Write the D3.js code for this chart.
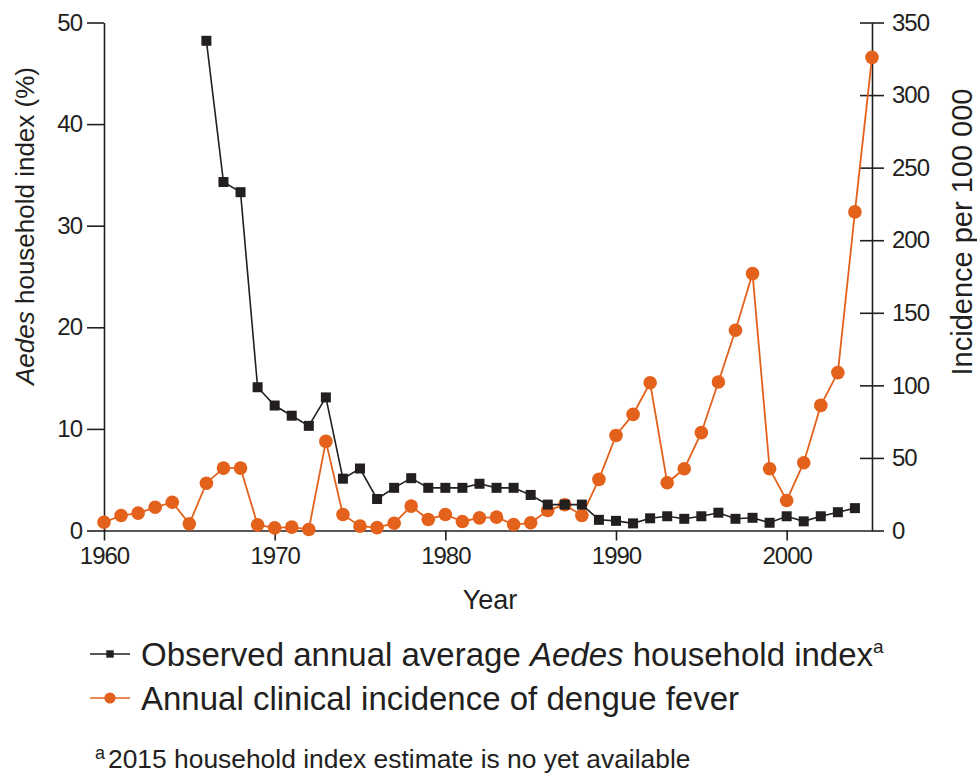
<!DOCTYPE html>
<html>
<head>
<meta charset="utf-8">
<script src="https://cdn.jsdelivr.net/npm/d3@7"></script>
<style>
  html, body { margin: 0; padding: 0; background: #fff; }
  svg { display: block; font-family: "Liberation Sans", Arial, Helvetica, sans-serif; }
</style>
</head>
<body>
<svg id="chart" width="977" height="776"></svg>
<script>
// ---- Data ----
const incidenceYears = d3.range(1960, 2006);
const incidence = [5.7, 10.3, 12, 16, 19.5, 4.6, 32.6, 43, 43, 3.9,
  1.8, 2.3, 0.7, 61.4, 11, 3, 2, 5, 16.8, 7.6,
  11, 6.2, 8.7, 9.2, 4.1, 5.3, 13.8, 17.7, 10.3, 35.2,
  65.5, 80, 101.8, 32.9, 42.5, 67.4, 102.3, 138, 177, 42.5,
  20.7, 46.7, 86.2, 108.8, 219.5, 326];
const indexYears = d3.range(1966, 2005);
const householdIndex = [48.2, 34.3, 33.3, 14.1,
  12.3, 11.3, 10.3, 13.1, 5.1, 6.1, 3.1, 4.2, 5.15, 4.2,
  4.2, 4.2, 4.6, 4.2, 4.2, 3.5, 2.55, 2.55, 2.55, 1.05,
  0.95, 0.7, 1.2, 1.4, 1.15, 1.4, 1.75, 1.15, 1.25, 0.76,
  1.4, 0.9, 1.4, 1.8, 2.2];
const xTicks = [1960, 1970, 1980, 1990, 2000];
const leftTicks = [0, 10, 20, 30, 40, 50];
const rightTicks = [0, 50, 100, 150, 200, 250, 300, 350];

const ink = "#231f20";
const orange = "#e4611b";

const svg = d3.select("#chart");
const x = d3.scaleLinear().domain([1960, 2005]).range([104, 872]);
const yL = d3.scaleLinear().domain([0, 50]).range([530.5, 22.5]);
const yR = d3.scaleLinear().domain([0, 350]).range([530.5, 22.5]);

function styleAxis(g) {
  g.selectAll("path.domain").attr("stroke", ink).attr("stroke-width", 1.6);
  g.selectAll(".tick line").attr("stroke", ink).attr("stroke-width", 1.6);
  g.selectAll(".tick text").attr("fill", ink).style("font-size", "24px")
    .style("font-family", '"Liberation Sans", Arial, sans-serif').attr("letter-spacing", "-1");
}

// bottom axis
const gx = svg.append("g").attr("transform", "translate(0,530.5)")
  .call(d3.axisBottom(x).tickValues(xTicks).tickFormat(d3.format("d")).tickSize(10).tickSizeOuter(0).tickPadding(6));
styleAxis(gx);

// left axis
const gl = svg.append("g").attr("transform", "translate(104,0)")
  .call(d3.axisLeft(yL).tickValues(leftTicks).tickSize(17).tickSizeOuter(0).tickPadding(5));
styleAxis(gl);

// right axis
const gr = svg.append("g").attr("transform", "translate(872,0)")
  .call(d3.axisRight(yR).tickValues(rightTicks).tickSize(12).tickSizeOuter(0).tickPadding(8));
styleAxis(gr);
gr.selectAll(".tick line").attr("x1", d => d === 0 ? 0 : -12);

// incidence series
const incData = incidenceYears.map((yr, i) => ({yr, v: incidence[i]}));
svg.append("path").datum(incData)
  .attr("fill", "none").attr("stroke", orange).attr("stroke-width", 1.8)
  .attr("d", d3.line().x(d => x(d.yr)).y(d => yR(d.v)));
svg.append("g").selectAll("circle").data(incData).join("circle")
  .attr("cx", d => x(d.yr)).attr("cy", d => yR(d.v)).attr("r", 6.8)
  .attr("fill", orange);

// household index series
const idxData = indexYears.map((yr, i) => ({yr, v: householdIndex[i]}));
svg.append("path").datum(idxData)
  .attr("fill", "none").attr("stroke", ink).attr("stroke-width", 1.6)
  .attr("d", d3.line().x(d => x(d.yr)).y(d => yL(d.v)));
svg.append("g").selectAll("rect").data(idxData).join("rect")
  .attr("x", d => x(d.yr) - 5).attr("y", d => yL(d.v) - 5)
  .attr("width", 10).attr("height", 10).attr("fill", ink);

// axis titles
svg.append("text").attr("x", 490).attr("y", 609).attr("text-anchor", "middle")
  .attr("fill", ink).style("font-size", "27px").text("Year");

const lt = svg.append("text").attr("transform", "translate(34,226) rotate(-90)")
  .attr("text-anchor", "middle").attr("fill", ink).style("font-size", "26px");
lt.append("tspan").style("font-style", "italic").text("Aedes");
lt.append("tspan").text(" household index (%)");

svg.append("text").attr("transform", "translate(972,232) rotate(-90)")
  .attr("text-anchor", "middle").attr("fill", ink).style("font-size", "29px")
  .text("Incidence per 100 000");

// legend
const lg1 = svg.append("g");
lg1.append("line").attr("x1", 90).attr("x2", 130).attr("y1", 654).attr("y2", 654)
  .attr("stroke", ink).attr("stroke-width", 1.6);
lg1.append("rect").attr("x", 106.3).attr("y", 650.3).attr("width", 7.4).attr("height", 7.4).attr("fill", ink);
const t1 = lg1.append("text").attr("x", 141).attr("y", 666).attr("fill", ink).style("font-size", "33px");
t1.append("tspan").text("Observed annual average ");
t1.append("tspan").style("font-style", "italic").text("Aedes");
t1.append("tspan").text(" household index");
t1.append("tspan").attr("dy", -13).style("font-size", "19px").text("a");

const lg2 = svg.append("g");
lg2.append("line").attr("x1", 90).attr("x2", 130).attr("y1", 698).attr("y2", 698)
  .attr("stroke", orange).attr("stroke-width", 1.6);
lg2.append("circle").attr("cx", 110).attr("cy", 698).attr("r", 5.6).attr("fill", orange);
lg2.append("text").attr("x", 141).attr("y", 710).attr("fill", ink).style("font-size", "33px")
  .text("Annual clinical incidence of dengue fever");

// footnote
const fn = svg.append("text").attr("x", 95).attr("y", 768).attr("fill", ink).style("font-size", "26.4px");
fn.append("tspan").attr("dy", -9).style("font-size", "18px").text("a");
fn.append("tspan").attr("x", 108).attr("dy", 9).text("2015 household index estimate is no yet available");
</script>
</body>
</html>
